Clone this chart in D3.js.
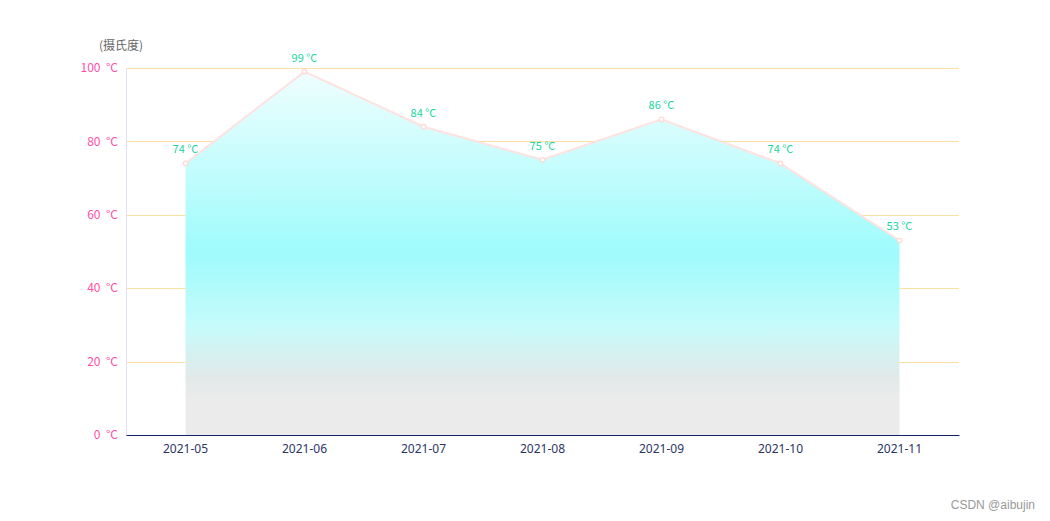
<!DOCTYPE html>
<html><head><meta charset="utf-8">
<script src="https://cdn.jsdelivr.net/npm/d3@7/dist/d3.min.js"></script>
<style>body{margin:0;background:#fff;font-family:"Microsoft YaHei","Noto Sans CJK SC","Noto Sans",sans-serif}</style>
</head><body>
<svg id="c" width="1050" height="521"></svg>
<script>
const categories = ["2021-05","2021-06","2021-07","2021-08","2021-09","2021-10","2021-11"];
const values = [74, 99, 84, 75, 86, 74, 53];
const yTicks = [0, 20, 40, 60, 80, 100];
const yName = "(摄氏度)";
const unit = "°C";

const svg = d3.select("#c");
const L = 126, R = 959, T = 68, B = 435;
const x = d3.scaleBand().domain(categories).range([L, R]);
const y = d3.scaleLinear().domain([0, 100]).range([B, T]);
const cx = d => x(d) + x.bandwidth() / 2;
const crisp = v => Math.round(v) + 0.5;

const defs = svg.append("defs");
const g = defs.append("linearGradient").attr("id", "ag").attr("x1", 0).attr("y1", 0).attr("x2", 0).attr("y2", 1);
[[0, "#effefe"], [0.5, "#9ffbfc"], [0.7, "#c6fbfb"], [0.84, "#e2e9e9"], [0.9, "#ebebeb"], [1, "#ebebeb"]]
  .forEach(([o, c]) => g.append("stop").attr("offset", o).attr("stop-color", c));

// grid
svg.append("g").selectAll("line").data(yTicks.filter(v => v > 0)).join("line")
  .attr("x1", L).attr("x2", R).attr("y1", d => crisp(y(d))).attr("y2", d => crisp(y(d)))
  .attr("stroke", "#fbe0a4").attr("stroke-width", 1);

// area
const pts = categories.map((c, i) => [cx(c), y(values[i])]);
svg.append("path")
  .attr("d", d3.area().x(d => d[0]).y0(B).y1(d => d[1])(pts))
  .attr("fill", "url(#ag)");

// y axis line
svg.append("line").attr("x1", L + 0.5).attr("x2", L + 0.5).attr("y1", T).attr("y2", B)
  .attr("stroke", "#e2e0fa").attr("stroke-width", 1);

// y labels
svg.append("g").selectAll("text").data(yTicks).join("text")
  .attr("x", 118).attr("y", d => y(d)).attr("dy", "0.35em")
  .attr("text-anchor", "end").attr("fill", "#ff4fa6").attr("font-size", 12)
  .attr("xml:space", "preserve")
  .text(d => d + "  " + unit);

svg.append("text").attr("x", 121).attr("y", 50).attr("text-anchor", "middle")
  .attr("fill", "#666").attr("font-size", 12).text(yName);

// x axis
const xa = svg.append("g").attr("transform", `translate(0,${B})`)
  .call(d3.axisBottom(x).tickSize(0).tickPadding(9));
xa.select(".domain").attr("stroke", "#13206a").attr("stroke-width", 1);
xa.selectAll("text").attr("fill", "#2c3566").attr("font-size", 12)
  .attr("font-family", "\"Microsoft YaHei\",\"Noto Sans\",sans-serif");

// line
svg.append("path").attr("d", d3.line()(pts))
  .attr("fill", "none").attr("stroke", "#ffe2df").attr("stroke-width", 2);

svg.append("g").selectAll("circle").data(pts).join("circle")
  .attr("cx", d => d[0]).attr("cy", d => d[1]).attr("r", 2.2)
  .attr("fill", "#fff").attr("stroke", "#ffd9d5").attr("stroke-width", 1.3);

svg.append("g").selectAll("text").data(values).join("text")
  .attr("x", (d, i) => cx(categories[i])).attr("y", d => y(d) - 10)
  .attr("text-anchor", "middle").attr("fill", "#19d6a0").attr("font-size", 11)
  .text(d => d + " " + unit);

svg.append("text").attr("x", 1035).attr("y", 509).attr("text-anchor", "end")
  .attr("fill", "#999").attr("font-size", 12).attr("font-family", "Arial, \"Liberation Sans\", sans-serif")
  .text("CSDN @aibujin");
</script>
</body></html>
